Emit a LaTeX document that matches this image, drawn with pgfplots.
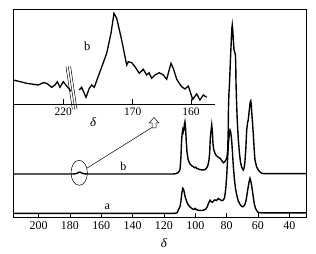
\documentclass[border=0pt]{standalone}
\usepackage{fontspec}
\setmainfont{Liberation Serif}
\usepackage{pgfplots}
\pgfplotsset{compat=1.18}
\begin{document}
\begin{tikzpicture}[x=1bp,y=1bp]
\useasboundingbox (-13.3bp,-36.3bp) rectangle (302.7bp,217.7bp);
\begin{axis}[
  at={(0bp,0bp)}, anchor=south west,
  scale only axis, width=293.4bp, height=208.4bp,
  x dir=reverse, xmin=28.9, xmax=216.1, ymin=0, ymax=208.4,
  xtick={40,60,...,200}, ytick=\empty,
  xtick pos=left, tick align=inside, major tick length=4.4bp,
  tick style={line width=0.6bp, black},
  axis line style={line width=0.8bp},
  /pgf/number format/assume math mode=true,
  tick label style={font=\fontsize{12}{14}\selectfont},
  xlabel={\textit{δ}},
  xlabel style={at={(axis description cs:0.5136,0)}, anchor=center, yshift=-25.3bp, font=\fontsize{13}{15}\selectfont},
]
% spectrum a
\addplot[black, line width=1.4bp] coordinates {
(216,4.4) (113,4.4) (111.5,5) (110.8,7.7) (110.2,9.5) (109.6,12) (109.2,16) (108.6,24) (108,29.5) (107.6,29) (107.1,26) (106.3,20) (105.3,15.5) (104.3,12.5) (103,10.3) (101.8,8.8) (100.8,8.3) (100,9.3) (99.3,8) (98,7.4) (96,7.2) (94.5,7.6) (93.5,8.5) (92.5,10.5) (91.5,14.5) (90.6,17.5) (89.8,16) (89,15.5) (88.5,16.5) (87.5,17.8) (86.5,17.2) (85.3,19.2) (84.2,18) (83,17) (82.1,17.7) (81.3,20) (80.6,28) (80,40) (79.4,58) (78.8,75) (78.2,85) (77.8,87.7) (77.4,86) (76.8,78) (76.2,64) (75.7,51) (75,38) (74.3,29) (73.6,23) (72.6,17) (71.5,13.5) (70.4,11.2) (69.4,11) (68.4,13) (67.6,17) (67.2,21) (66.5,28) (65.8,35) (65.1,39.4) (64.5,36) (63.6,27.7) (63,21) (62.4,14.4) (61.6,9.5) (60.8,7.2) (60,5.5) (59,5) (57,4.8) (29,4.8)
};
% spectrum b
\addplot[black, line width=1.4bp] coordinates {
(216,43.7) (178,43.7) (176,44) (174.8,45) (173.6,45.6) (172.6,44.8) (171.2,44) (169,43.7) (114,43.7) (112.5,44) (111,45) (110.3,46.5) (109.8,48) (109.5,52) (109.1,62) (108.7,78) (108.3,85) (108,87.7) (107.7,85.5) (107.3,88) (106.9,94) (106.6,96) (106.2,90) (105.8,78) (105.3,66) (104.5,57.7) (103.5,54) (102.3,52) (101.3,51) (100.3,50) (99.7,50.5) (99.1,49.5) (97.5,48.3) (95.5,47.7) (93.8,48) (92.8,49.5) (92,52) (91.3,57) (90.8,65) (90.4,80) (90,86) (89.5,92.7) (89.1,86) (88.7,74) (88.2,68) (87.4,64.4) (86.5,62) (85.3,60.5) (84.2,59.4) (83.2,57.5) (82.1,55) (81.2,56) (80.5,57.5) (79.8,60) (79.3,68) (79,85) (78.8,110) (78.5,125) (78.3,129.4) (78,140) (77.5,160) (77,178) (76.6,190) (76.4,192.7) (76.1,188) (75.7,178) (75.3,168) (74.9,166) (74.4,163) (74.2,155) (74,135) (73.7,117.7) (73.2,97) (72.6,80) (71.9,66) (71.2,56) (70.4,50.5) (69.4,47.7) (68.8,50) (68.3,56) (67.7,70) (67.2,87.7) (66.6,95) (66.2,97.7) (65.5,108) (64.9,116) (64.6,117) (64.3,114) (63.9,104) (63.6,97.7) (63.0,84.4) (62.4,68) (61.9,57.7) (60.9,51) (59.8,47.7) (58.5,45.5) (57.6,44.5) (56,44) (29,44)
};
\end{axis}
% inset (x: display position; left piece is 220 ppm region after the axis break)
\begin{axis}[
  at={(0bp,113.4bp)}, anchor=south west,
  scale only axis, width=201.7bp, height=95bp,
  x dir=reverse, xmin=155.88, xmax=190.48, ymin=0, ymax=95,
  axis x line=bottom, axis y line=none,
  axis line style={-, line width=0.6bp},
  xtick={181.9,170,160}, xticklabels={220,170,160},
  tick align=inside, major tick length=5bp,
  tick style={line width=0.6bp, black},
  /pgf/number format/assume math mode=true,
  tick label style={font=\fontsize{11.5}{13}\selectfont},
  clip=false,
]
\addplot[black, line width=1.3bp] coordinates {
(190.48,24.3) (188.18,21.0) (186.19,19.3) (185.33,21.6) (184.75,21) (183.89,17.0) (183.33,19.3) (182.93,22.6) (182.47,17.0) (181.90,22.6) (181.32,18.3) (180.75,14.3) (180.55,13)
};
\addplot[black, line width=1.3bp] coordinates {
(179.16,14.3) (178.75,17.0) (178.01,7.0) (177.44,16.0) (177.03,19.3) (176.59,17.0) (175.61,32.6) (174.46,51.0) (173.72,71.0) (173.21,91.0) (172.74,86.0) (171.89,64.3) (171.03,39.3) (170.75,42.6) (170.17,41.6) (169.61,37.6) (168.87,31.0) (168.18,35.0) (167.60,29.3) (167.2,31.5) (166.74,26.0) (166.18,29.3) (165.44,31.6) (164.75,29.3) (164.17,25.0) (163.43,41.0) (163.04,36.0) (162.45,25.0) (161.60,17.6) (161.03,15.3) (160.46,18.3) (159.71,5.0) (159.02,10.3) (158.46,4.3) (157.89,9.3) (157.31,7.0)
};
\draw[line width=0.5bp] (axis cs:181.45,38) -- (axis cs:180.35,-5);
\draw[line width=0.5bp] (axis cs:181.05,38) -- (axis cs:179.95,-5);
\draw[line width=0.5bp] (axis cs:180.65,38) -- (axis cs:179.55,-5);
\end{axis}
% annotations
\draw[line width=0.5bp] (65.9bp,44.9bp) ellipse [x radius=8.2bp, y radius=12.5bp];
\draw[line width=0.5bp] (73.4bp,49.4bp) -- (138.6bp,90.2bp);
\draw[line width=0.5bp] (138.7bp,89.7bp) -- (138.7bp,94.7bp) -- (135.7bp,94.7bp) -- (140.7bp,100.2bp) -- (145.7bp,94.7bp) -- (142.7bp,94.7bp) -- (142.7bp,89.7bp) -- cycle;
\node[font=\fontsize{12}{14}\selectfont] at (110bp,51bp) {b};
\node[font=\fontsize{12}{14}\selectfont] at (94bp,10.5bp) {a};
\node[font=\fontsize{12.5}{14}\selectfont] at (74bp,171bp) {b};
\node[font=\fontsize{13}{15}\selectfont] at (80bp,96bp) {\textit{δ}};
\end{tikzpicture}
\end{document}
